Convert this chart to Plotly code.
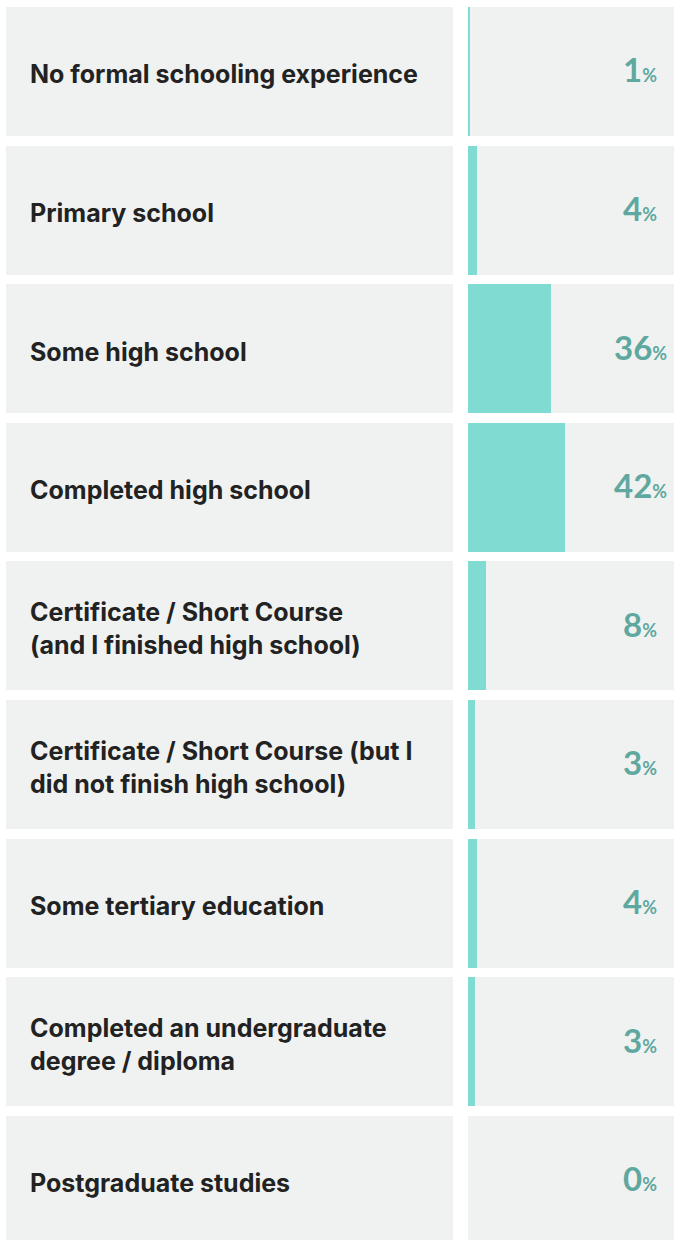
import plotly.graph_objects as go

categories = [
    "No formal schooling experience",
    "Primary school",
    "Some high school",
    "Completed high school",
    "Certificate / Short Course<br>(and I finished high school)",
    "Certificate / Short Course (but I<br>did not finish high school)",
    "Some tertiary education",
    "Completed an undergraduate<br>degree / diploma",
    "Postgraduate studies",
]
values = [1, 4, 36, 42, 8, 3, 4, 3, 0]

X_MAX = 89.6
GRAY = "#f0f2f1"
BAR = "#80dcd2"
PCT = "#5fa8a0"
TXT = "#222222"
LABEL_FONT = "Inter"
NUM_FONT = "Lato"

fig = go.Figure()
ids = list(range(len(categories)))

# left label panels
fig.add_trace(go.Bar(x=[1] * len(ids), y=ids, orientation="h", width=0.93,
                     marker=dict(color=GRAY, line=dict(width=0)),
                     xaxis="x", yaxis="y", hoverinfo="skip", showlegend=False))
# right background panels
fig.add_trace(go.Bar(x=[X_MAX] * len(ids), y=ids, orientation="h", width=0.93,
                     marker=dict(color=GRAY, line=dict(width=0)),
                     xaxis="x2", yaxis="y", hoverinfo="skip", showlegend=False))
# data bars
fig.add_trace(go.Bar(x=values, y=ids, orientation="h", width=0.93,
                     marker=dict(color=BAR, line=dict(width=0)),
                     xaxis="x2", yaxis="y", showlegend=False))

annotations = []
for i, (c, v) in enumerate(zip(categories, values)):
    annotations.append(dict(x=0, y=i, xref="x", yref="y", text=f"<b>{c}</b>",
                            xanchor="left", yanchor="middle", align="left",
                            xshift=22, yshift=-3, showarrow=False,
                            font=dict(family=LABEL_FONT, size=25, color=TXT)))
    annotations.append(dict(x=X_MAX, y=i, xref="x2", yref="y",
                            text=f"<b>{v}</b><span style='font-size:18px'><b>%</b></span>",
                            xanchor="center", yanchor="middle", align="center",
                            xshift=-34, yshift=2, showarrow=False,
                            font=dict(family=NUM_FONT, size=33, color=PCT)))

fig.update_layout(
    width=674, height=1240,
    margin=dict(l=0, r=0, t=7, b=0),
    paper_bgcolor="white", plot_bgcolor="white",
    barmode="overlay", bargap=0,
    xaxis=dict(domain=[6 / 674, 453 / 674], range=[0, 1], visible=False, fixedrange=True),
    xaxis2=dict(domain=[468 / 674, 1], range=[0, X_MAX], visible=False, fixedrange=True),
    yaxis=dict(range=[8.431, -0.465], visible=False, fixedrange=True),
    annotations=annotations,
)

fig.write_html("out.html", config={"displayModeBar": False},
               post_script="document.body.style.margin='0px';document.body.style.overflow='hidden';")
